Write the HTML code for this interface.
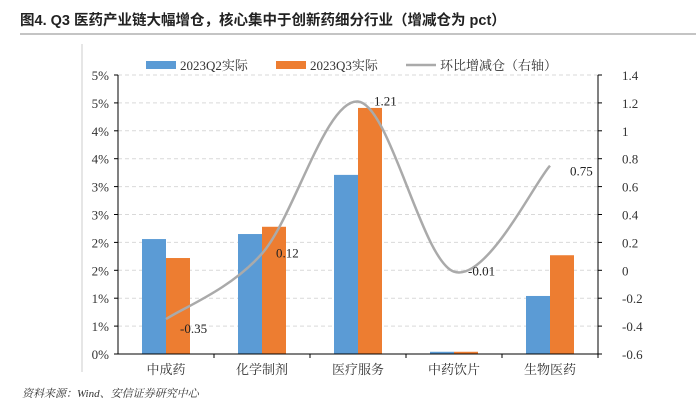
<!DOCTYPE html>
<html><head><meta charset="utf-8"><style>
body{margin:0;background:#fff;width:696px;height:403px;overflow:hidden;font-family:"Liberation Serif","Noto Serif CJK SC",serif}
</style></head><body>
<svg width="696" height="403" style="position:absolute;left:0;top:0">
<text x="20" y="25" font-size="14.5" font-weight="bold" font-family="'Liberation Sans','Noto Sans CJK SC',sans-serif" fill="#222">图4. Q3 医药产业链大幅增仓，核心集中于创新药细分行业（增减仓为 pct）</text>
<line x1="20" y1="34" x2="696" y2="34" stroke="#888" stroke-width="1"/>
<line x1="82" y1="44" x2="82" y2="372" stroke="#ccc" stroke-width="1"/>
<g id="grid"></g><g id="bars"></g><g id="line"></g><g id="axes"></g>
<g font-size="13" fill="#333">
<rect x="146" y="61" width="30" height="8" fill="#5B9BD5"/>
<text x="180" y="70">2023Q2实际</text>
<rect x="276" y="61" width="30" height="8" fill="#ED7D31"/>
<text x="310" y="70">2023Q3实际</text>
<line x1="406" y1="65" x2="436" y2="65" stroke="#AAAAAA" stroke-width="2.5"/>
<text x="440" y="70">环比增减仓（右轴）</text>
</g>
<text x="22" y="397" font-size="11" font-style="italic" fill="#333">资料来源：Wind、安信证券研究中心</text>
</svg>
<script>
const categories=["中成药","化学制剂","医疗服务","中药饮片","生物医药"];
const q2Values=[2.06,2.15,3.21,0.04,1.04];
const q3Values=[1.72,2.28,4.41,0.04,1.77];
const changeValues=[-0.35,0.12,1.21,-0.01,0.75];
const leftTicks=[0,0.5,1,1.5,2,2.5,3,3.5,4,4.5,5];
const rightTicks=[-0.6,-0.4,-0.2,0,0.2,0.4,0.6,0.8,1,1.2,1.4];
const NS="http://www.w3.org/2000/svg";
const X0=118,X1=598,YT=75,YB=354;
const yL=v=>YB-(v/5)*(YB-YT);
const yR=v=>YB-((v+0.6)/2)*(YB-YT);
const bw=(X1-X0)/categories.length;
const cx=i=>X0+bw*(i+0.5);
function mk(tag,attrs,parent,text){const e=document.createElementNS(NS,tag);for(const k in attrs)e.setAttribute(k,attrs[k]);if(text!=null)e.textContent=text;document.getElementById(parent).appendChild(e);return e;}
leftTicks.forEach((t,i)=>{
 const y=yL(t);
 if(i>0){const g=mk("line",{x1:X0,x2:X1,y1:y,y2:y,stroke:"#d9d9d9","stroke-dasharray":"4,3"},"grid");
 
 }
 const tk=mk("line",{x1:X0-4,x2:X0,y1:y,y2:y,stroke:"#000"},"axes");
 
 
 const lb=mk("text",{x:X0-9,y:y+5,"text-anchor":"end","font-size":"13",fill:"#333"},"axes",Math.round(t)+"%");
 
 
});
rightTicks.forEach(t=>{
 const y=yR(t);
 const tk=mk("line",{x1:X1,x2:X1+4,y1:y,y2:y,stroke:"#000"},"axes");
 
 
 const lb=mk("text",{x:X1+24,y:y+5,"font-size":"13",fill:"#333"},"axes",String(Math.round(t*10)/10));
 
 
});
let a=mk("line",{x1:X0,x2:X0,y1:YT,y2:YB,stroke:"#000"},"axes");


a=mk("line",{x1:X1,x2:X1,y1:YT,y2:YB,stroke:"#000"},"axes");


a=mk("line",{x1:X0,x2:X1,y1:YB,y2:YB,stroke:"#000"},"axes");


categories.forEach((c,i)=>{
 const tk=mk("line",{x1:X0+bw*(i+1),x2:X0+bw*(i+1),y1:YB,y2:YB+4,stroke:"#000"},"axes");
 
 
 const lb=mk("text",{x:cx(i),y:YB+20,"text-anchor":"middle","font-size":"13",fill:"#333"},"axes",c);
 
 
 const b1=mk("rect",{x:cx(i)-24,y:yL(q2Values[i]),width:24,height:YB-yL(q2Values[i]),fill:"#5B9BD5"},"bars");
 
 
 const b2=mk("rect",{x:cx(i),y:yL(q3Values[i]),width:24,height:YB-yL(q3Values[i]),fill:"#ED7D31"},"bars");
 
 
});
const pts=changeValues.map((v,i)=>[cx(i),yR(v)]);
let d="M"+pts[0][0]+","+pts[0][1];
for(let i=0;i<pts.length-1;i++){
 const p0=pts[Math.max(0,i-1)],p1=pts[i],p2=pts[i+1],p3=pts[Math.min(pts.length-1,i+2)];
 const t=1/6;
 d+=" C"+(p1[0]+(p2[0]-p0[0])*t)+","+(p1[1]+(p2[1]-p0[1])*t)+" "+(p2[0]-(p3[0]-p1[0])*t)+","+(p2[1]-(p3[1]-p1[1])*t)+" "+p2[0]+","+p2[1];
}
const ln=mk("path",{d:d,fill:"none",stroke:"#AAAAAA","stroke-width":"2.5"},"line");


const off=[[14,10],[14,0],[16,0],[14,0],[20,6]];
changeValues.forEach((v,i)=>{
 const lb=mk("text",{x:pts[i][0]+off[i][0],y:pts[i][1]+off[i][1]+4,"font-size":"13",fill:"#222"},"line",v.toFixed(2));
 
 
});
</script>
</body></html>
